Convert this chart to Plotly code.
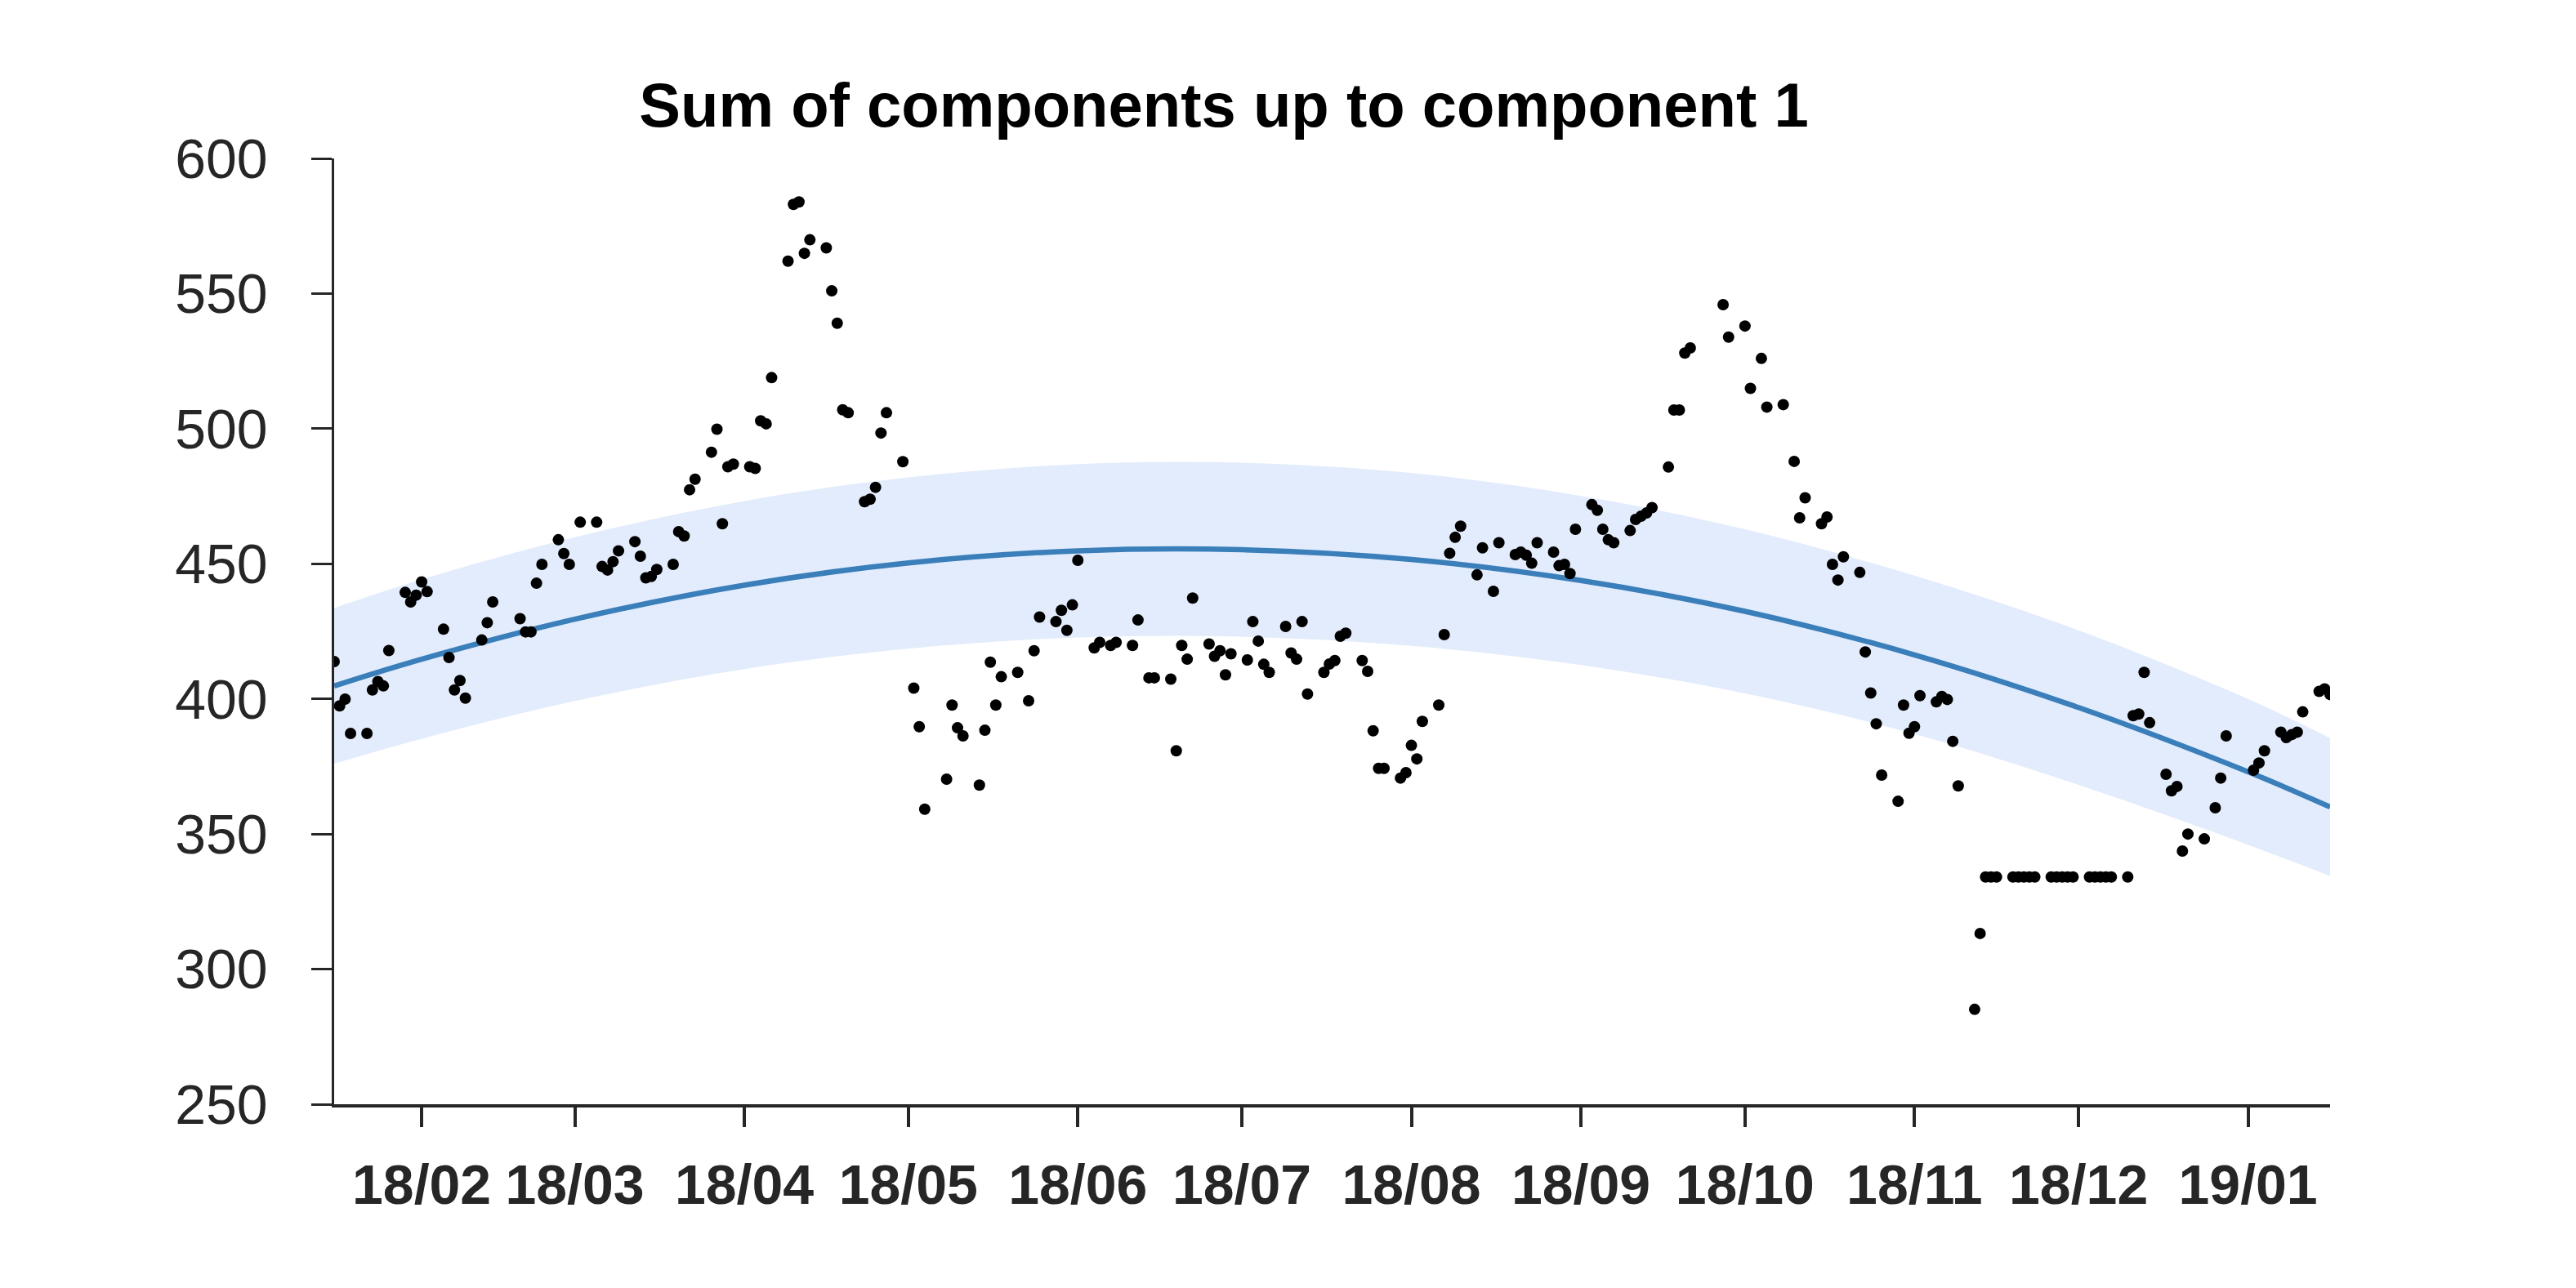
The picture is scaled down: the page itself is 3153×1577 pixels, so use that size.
import pandas as pd
import plotly.graph_objects as go

# ---------------- data ----------------
start_date = "2018-01-16"
end_date = "2019-01-16"
market_holidays = [
    "2018-02-15", "2018-02-16", "2018-03-01", "2018-05-01", "2018-05-07",
    "2018-05-22", "2018-06-06", "2018-06-13", "2018-08-15", "2018-09-24",
    "2018-09-25", "2018-09-26", "2018-10-03", "2018-10-09", "2018-12-25",
    "2018-12-31", "2019-01-01",
]

jan18 = [413.8, 397.4, 399.9, 387.2, 387.2, 403.3, 406.4, 404.8, 417.9, 439.4, 435.9, 438.4]
feb18 = [443.3, 439.7, 425.8, 415.3, 403.3, 406.8, 400.3, 421.8, 428.2, 435.9, 429.7, 424.8,
         424.8, 442.8, 449.8, 458.9, 453.8, 449.8]
mar18 = [465.4, 465.4, 449.0, 447.7, 450.8, 454.8, 458.2, 452.8, 444.8, 445.3, 447.9, 449.8,
         461.9, 460.3, 477.4, 481.3, 491.3, 499.8, 464.8, 485.9, 486.9]
apr18 = [485.9, 485.3, 502.9, 501.8, 518.9, 562.0, 583.0, 583.9, 564.9, 569.9, 566.9, 551.0,
         539.0, 507.0, 505.9, 473.0, 473.9, 478.3, 498.4, 505.9, 487.8]
may18 = [404.0, 389.7, 359.2, 370.3, 397.7, 389.3, 386.3, 368.1, 388.4, 413.6, 397.7, 408.2,
         409.8, 399.3, 417.8, 430.3, 428.6, 432.8, 425.4, 434.8]
jun18 = [451.3, 418.9, 420.9, 419.8, 420.9, 419.8, 429.2, 407.8, 407.8, 407.3, 380.8, 419.8,
         414.7, 437.3, 420.3, 415.8, 417.8, 408.9, 416.7]
jul18 = [414.4, 428.6, 421.4, 412.8, 409.8, 426.8, 417.0, 414.7, 428.6, 401.8, 409.8, 412.9,
         414.2, 423.2, 424.3, 414.2, 410.2, 388.2, 374.3, 374.3, 370.7, 372.7]
aug18 = [382.8, 377.8, 391.7, 397.7, 423.8, 453.9, 459.8, 463.9, 445.9, 455.9, 439.8, 457.8,
         453.4, 454.3, 453.2, 450.2, 457.8, 454.3, 449.3, 449.8, 446.4, 462.8]
sep18 = [471.9, 469.8, 462.8, 458.9, 457.8, 462.3, 466.4, 467.6, 468.8, 470.8, 485.8, 506.9,
         506.9, 528.0, 529.9, 545.9, 533.9]
oct18 = [538.0, 514.9, 526.0, 508.0, 508.9, 487.9, 467.0, 474.4, 464.8, 467.3, 449.8, 444.0,
         452.6, 446.8, 417.4, 402.2, 390.8, 371.8, 362.1, 397.7, 387.3]
nov18 = [389.7, 401.2, 398.9, 400.9, 399.8, 384.3, 367.8, 285.1, 313.2, 334.1, 334.1, 334.1,
         334.1, 334.1, 334.1, 334.1, 334.1, 334.1, 334.1, 334.1, 334.1, 334.1]
dec18 = [334.1, 334.1, 334.1, 334.1, 334.1, 334.1, 393.8, 394.4, 409.8, 391.2, 372.1, 366.0,
         367.6, 343.7, 350.0, 348.2, 359.7, 370.7, 386.3]
jan19 = [373.6, 376.3, 380.8, 387.7, 385.7, 386.8, 387.7, 395.2, 402.8, 403.7, 401.6]

# trend (component 1) and its band, read at these dates
trend_dates = ["2018-01-16", "2018-02-01", "2018-03-01", "2018-04-01", "2018-05-01",
               "2018-06-01", "2018-07-01", "2018-08-01", "2018-09-01", "2018-10-01",
               "2018-11-01", "2018-12-01", "2019-01-01", "2019-01-16"]
trend_vals = [404.8, 414.7, 429.5, 442.1, 450.3, 454.8, 455.2, 451.6, 443.8, 432.4,
              416.3, 396.8, 373.0, 360.0]
band_upper = [433.6, 444.2, 459.8, 473.2, 482.0, 486.9, 487.4, 483.6, 475.1, 462.8,
              445.6, 425.4, 400.0, 385.5]
band_lower = [376.0, 385.2, 399.2, 411.0, 418.6, 422.7, 423.0, 419.6, 412.5, 402.0,
              387.0, 368.2, 346.0, 334.5]

tick_dates = ["2018-02-01", "2018-03-01", "2018-04-01", "2018-05-01", "2018-06-01",
              "2018-07-01", "2018-08-01", "2018-09-01", "2018-10-01", "2018-11-01",
              "2018-12-01", "2019-01-01"]
tick_labels = ["18/02", "18/03", "18/04", "18/05", "18/06", "18/07", "18/08", "18/09",
               "18/10", "18/11", "18/12", "19/01"]
y_ticks = [250, 300, 350, 400, 450, 500, 550, 600]

title_text = "Sum of components up to component 1"

# ---------------- build ----------------
values = (jan18 + feb18 + mar18 + apr18 + may18 + jun18 + jul18 + aug18 + sep18 +
          oct18 + nov18 + dec18 + jan19)
dates = pd.bdate_range(start_date, end_date, freq="C", holidays=market_holidays)
n = min(len(dates), len(values))
dates = dates[:n]
values = values[:n]

BAND = "rgb(227,236,252)"
LINE = "rgb(58,126,186)"
TXT = "#262626"
FONT = "Liberation Sans, Arial, Helvetica, sans-serif"

fig = go.Figure()
fig.add_trace(go.Scatter(x=trend_dates, y=band_upper, mode="lines",
                         line=dict(width=0, shape="spline", color=BAND),
                         hoverinfo="skip", showlegend=False))
fig.add_trace(go.Scatter(x=trend_dates, y=band_lower, mode="lines",
                         line=dict(width=0, shape="spline", color=BAND),
                         fill="tonexty", fillcolor=BAND,
                         hoverinfo="skip", showlegend=False))
fig.add_trace(go.Scatter(x=trend_dates, y=trend_vals, mode="lines",
                         line=dict(width=6.5, shape="spline", color=LINE),
                         showlegend=False))
fig.add_trace(go.Scatter(x=dates, y=values, mode="markers",
                         marker=dict(size=14, color="black", line=dict(width=0)),
                         showlegend=False))

fig.update_layout(
    width=3153, height=1577,
    margin=dict(l=409, r=301, t=194, b=225, pad=0),
    paper_bgcolor="white", plot_bgcolor="white",
    font=dict(family=FONT, color=TXT),
    title=dict(text="<b>" + title_text + "</b>", xref="container", yref="container",
               x=1498 / 3153, xanchor="center", y=1 - 128 / 1577, yanchor="middle",
               font=dict(size=76, color="black", family=FONT)),
    showlegend=False,
)
fig.update_xaxes(
    range=[start_date, end_date], type="date",
    tickvals=tick_dates, ticktext=["<b>" + t + "</b>" for t in tick_labels],
    showgrid=False, zeroline=False,
    showline=True, linecolor=TXT, linewidth=4,
    ticks="outside", ticklen=24, tickwidth=4, tickcolor=TXT,
    tickfont=dict(size=68, color=TXT, family=FONT),
    ticklabelstandoff=12,
)
fig.update_yaxes(
    range=[250, 600], tickvals=y_ticks,
    showgrid=False, zeroline=False,
    showline=True, linecolor=TXT, linewidth=2.5,
    ticks="outside", ticklen=25, tickwidth=2.5, tickcolor=TXT,
    tickfont=dict(size=68, color=TXT, family=FONT),
    ticklabelstandoff=40,
)

fig.write_html("out.html")
